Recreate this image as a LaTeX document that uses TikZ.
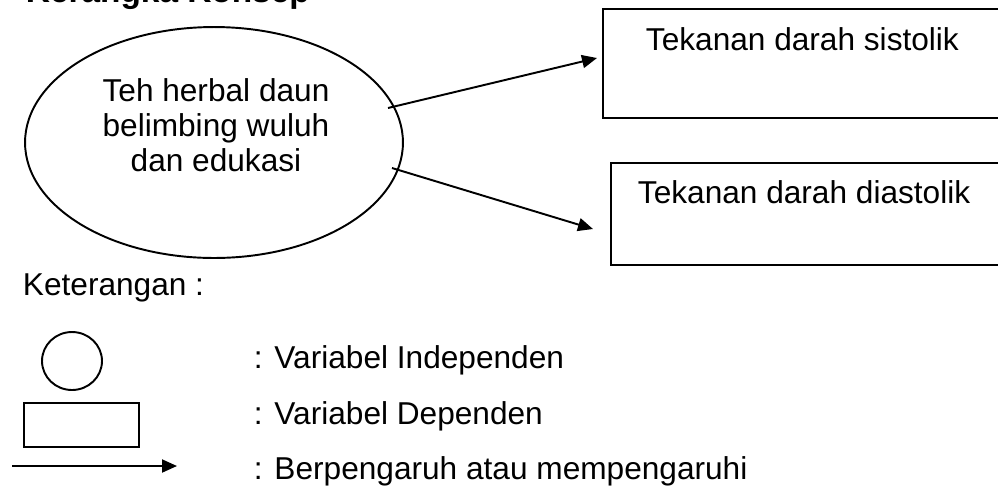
\documentclass[tikz,border=0pt]{standalone}
\usepackage{fontspec}
\setmainfont{Liberation Sans}
\usetikzlibrary{shapes.geometric,arrows.meta}

\begin{document}
\begin{tikzpicture}[x=0.02cm, y=-0.02cm, line width=1.1pt,
  >={Triangle[length=0.3cm,width=0.26cm]},
  indep/.style={draw, ellipse, inner sep=0pt},
  depbox/.style={draw, rectangle, inner sep=0pt},
  lbl/.style={inner sep=0pt, anchor=base west, font=\fontsize{18}{20}\selectfont}]
\useasboundingbox (0,0) rectangle (998,488);

% Judul
\node[inner sep=0pt, anchor=base west, font=\fontsize{19}{21}\selectfont\bfseries] (judul) at (25,2) {Kerangka Konsep};

% Variabel independen
\node[indep, minimum width=7.56cm, minimum height=4.62cm] (teh) at (214,142.5) {};
\node[inner sep=0pt, anchor=north, align=center, font=\fontsize{18}{19.9}\selectfont] (tehtxt) at (216,78) {Teh herbal daun\\belimbing wuluh\\dan edukasi};

% Variabel dependen
\node[depbox, minimum width=8.14cm, minimum height=2.18cm] (sis) at (806.5,63.5) {};
\node[lbl] (sistxt) at (645,50) {Tekanan darah sistolik};
\node[depbox, minimum width=7.98cm, minimum height=2.04cm] (dia) at (810.5,214) {};
\node[lbl] (diatxt) at (637,203) {Tekanan darah diastolik};

% Panah
\coordinate (p1) at (388,108);
\coordinate (q1) at (597,58);
\coordinate (p2) at (392,168);
\coordinate (q2) at (593,229);
\draw[->] (p1) -- (q1);
\draw[->] (p2) -- (q2);

% Keterangan
\node[lbl] (ket) at (22,295) {Keterangan :};
\node[indep, minimum width=1.2cm, minimum height=1.16cm] (lgelp) at (72,361) {};
\node[depbox, minimum width=2.3cm, minimum height=0.88cm] (lgbox) at (81.5,425) {};
\coordinate (lga) at (12,466);
\coordinate (lgb) at (177,466);
\draw[->] (lga) -- (lgb);
\node[lbl] (ketind) at (253,368) {: Variabel Independen};
\node[lbl] (ketdep) at (253,424) {: Variabel Dependen};
\node[lbl] (ketpan) at (253,479) {: Berpengaruh atau mempengaruhi};
\end{tikzpicture}
\end{document}
